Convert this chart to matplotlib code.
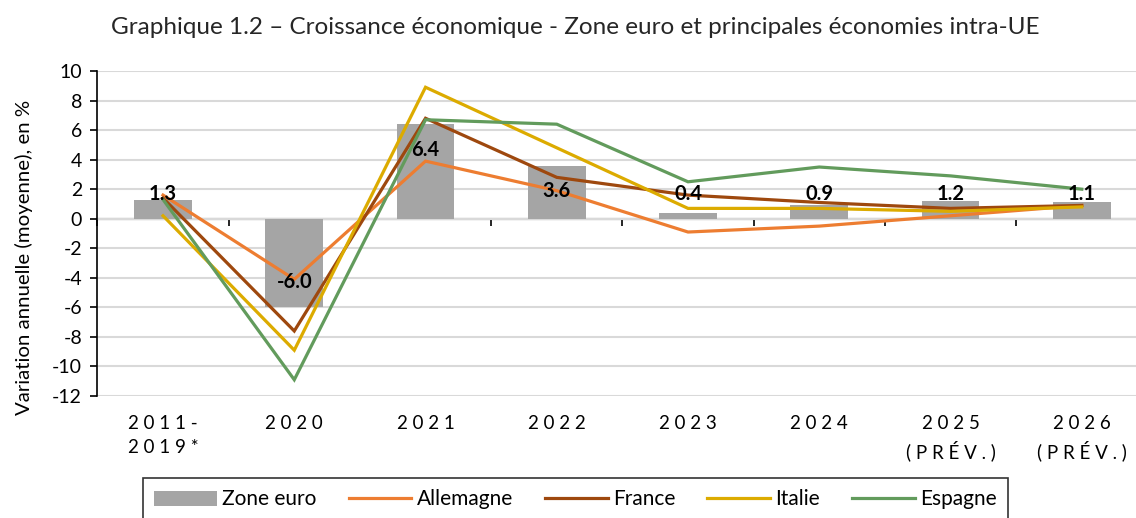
import matplotlib
matplotlib.use("Agg")
import matplotlib.pyplot as plt
from matplotlib.patches import Patch
from matplotlib.lines import Line2D
import numpy as np

plt.rcParams['font.family'] = ['Lato', 'DejaVu Sans']

categories = ["2011-\n2019*", "2020", "2021", "2022", "2023", "2024", "2025\n(PRÉV.)", "2026\n(PRÉV.)"]
zone_euro = [1.3, -6.0, 6.4, 3.6, 0.4, 0.9, 1.2, 1.1]
allemagne = [1.6, -4.1, 3.9, 1.9, -0.9, -0.5, 0.2, 0.9]
france = [1.4, -7.6, 6.8, 2.8, 1.6, 1.1, 0.7, 0.9]
italie = [0.2, -8.9, 8.9, 4.8, 0.7, 0.7, 0.5, 0.8]
espagne = [1.3, -10.9, 6.7, 6.4, 2.5, 3.5, 2.9, 2.0]
yticks = list(range(-12, 11, 2))

title = "Graphique 1.2 – Croissance économique - Zone euro et principales économies intra-UE"
ylabel = "Variation annuelle (moyenne), en %"

c_bar = "#a5a5a5"
c_all = "#ed7d31"
c_fra = "#9e480e"
c_ita = "#dcab00"
c_esp = "#629b5c"

W, H = 1136, 518
fig = plt.figure(figsize=(W / 100, H / 100), dpi=100)
ax = fig.add_axes([97.4 / W, (H - 396) / H, 1050 / W, 325 / H])

x = np.arange(len(categories))
ax.bar(x, zone_euro, width=0.44, color=c_bar, zorder=2)
lw = 2.3
series = [(allemagne, c_all), (france, c_fra), (italie, c_ita), (espagne, c_esp)]
for vals, col in series:
    ax.plot(x, vals, color=col, lw=lw, zorder=3, solid_joinstyle='miter')

# data labels
for xi, v in zip(x, zone_euro):
    if v >= 0:
        yl = max(v - 1.75, 1.65)
    else:
        yl = min(v + 1.75, -1.65)
    ax.text(xi, yl, f"{v:.1f}", ha='center', va='center', fontsize=14.5,
            fontweight='bold', color='black', zorder=4)

ax.set_xlim(-0.5, len(categories) - 0.5)
ax.set_ylim(-12, 10)
ax.set_yticks(yticks)
ax.set_yticklabels([str(t) for t in yticks], fontsize=14)
ax.grid(axis='y', color='#d9d9d9', lw=1.5, zorder=0)
ax.set_axisbelow(True)

for s in ['top', 'right', 'bottom']:
    ax.spines[s].set_visible(False)
ax.spines['left'].set_color('black')
ax.spines['left'].set_linewidth(1.2)
ax.tick_params(axis='y', direction='out', length=5, width=1.2, color='black', pad=6)

sp = "\u2005"
def spaced(s):
    return "\n".join(sp.join(list(line)) for line in s.split("\n"))

ax.set_xticks(x)
ax.set_xticklabels([spaced(c) for c in categories], fontsize=13.5, linespacing=1.45)
ax.tick_params(axis='x', length=0, pad=14)

# zero line with category-boundary ticks
y0 = (0 - (-12)) / 22
sec = ax.secondary_xaxis(y0)
sec.set_xticks(np.arange(-0.5, len(categories), 1.0))
sec.set_xticklabels([])
sec.tick_params(axis='x', direction='in', length=5, width=1.2, color='black')
for s in sec.spines.values():
    s.set_color('black')
    s.set_linewidth(1.5)

ax.set_ylabel(ylabel, fontsize=14.7)
ax.yaxis.set_label_coords(-0.061, 0.425)

fig.text(575 / W, 1 - 28 / H, title, ha='center', va='center', fontsize=17.5,
         fontweight='normal', color='#262626')

handles = [Patch(facecolor=c_bar, edgecolor='none', label="Zone euro"),
           Line2D([0], [0], color=c_all, lw=lw, label="Allemagne"),
           Line2D([0], [0], color=c_fra, lw=lw, label="France"),
           Line2D([0], [0], color=c_ita, lw=lw, label="Italie"),
           Line2D([0], [0], color=c_esp, lw=lw, label="Espagne")]
leg = fig.legend(handles=handles, loc='upper left', bbox_to_anchor=(143 / W, 1 - 478 / H),
                 ncol=5, fontsize=15, frameon=True, fancybox=False, handlelength=3.0,
                 handleheight=0.75, handletextpad=0.25, columnspacing=1.55,
                 borderpad=0.55, borderaxespad=0)
leg.get_frame().set_edgecolor('black')
leg.get_frame().set_linewidth(1.2)

fig.savefig("out.png", dpi=100)
